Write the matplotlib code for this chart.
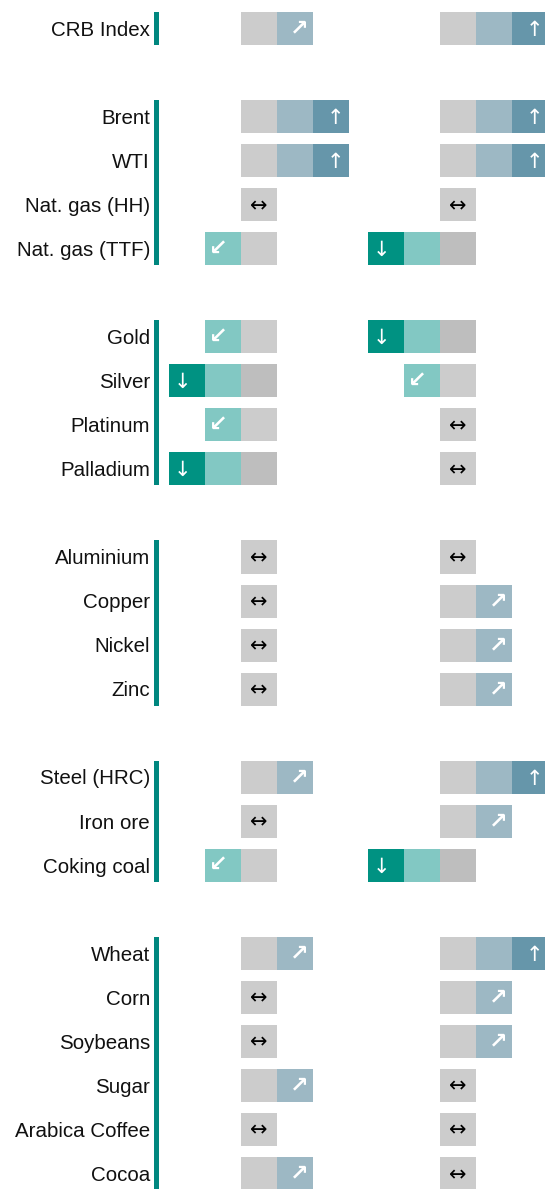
import matplotlib
matplotlib.use("Agg")
import matplotlib.pyplot as plt

# data
groups = [
    ["CRB Index"],
    ["Brent", "WTI", "Nat. gas (HH)", "Nat. gas (TTF)"],
    ["Gold", "Silver", "Platinum", "Palladium"],
    ["Aluminium", "Copper", "Nickel", "Zinc"],
    ["Steel (HRC)", "Iron ore", "Coking coal"],
    ["Wheat", "Corn", "Soybeans", "Sugar", "Arabica Coffee", "Cocoa"],
]
signal_left = [1,
               2, 2, 0, -1,
               -1, -2, -1, -2,
               0, 0, 0, 0,
               1, 0, -1,
               1, 0, 0, 1, 0, 1]
signal_right = [2,
                2, 2, 0, -2,
                -2, -1, 0, 0,
                0, 1, 1, 1,
                2, 1, -2,
                2, 1, 1, 0, 0, 0]

# colours
GRAY = "#cccccc"
GRAY_DK = "#bebebe"
TEAL_LT = "#82c8c3"
TEAL_DK = "#009282"
BLUE_LT = "#9db8c4"
BLUE_DK = "#6696aa"
BAR = "#00877f"

cells_for = {
    0: [(0, GRAY, "↔", "black")],
    1: [(0, GRAY, "", ""), (1, BLUE_LT, "↗", "white")],
    2: [(0, GRAY, "", ""), (1, BLUE_LT, "", ""), (2, BLUE_DK, "↑", "white")],
    -1: [(-1, TEAL_LT, "↙", "white"), (0, GRAY, "", "")],
    -2: [(-2, TEAL_DK, "↓", "white"), (-1, TEAL_LT, "", ""), (0, GRAY_DK, "", "")],
}

# layout (x in cell widths, y in rows)
col_x = [0.0, 5.53]
h = 0.75
arrow_shift = 0.125

fig = plt.figure(figsize=(5.45, 11.89), dpi=100)
ax = fig.add_axes([0, 0, 1, 1])
ax.set_xlim(-6.694, 8.444)
ax.set_ylim(26.35, -0.647)
ax.axis("off")

labels = []
ypos = []
row = 0
group_spans = []
for g in groups:
    start = row
    for name in g:
        labels.append(name)
        ypos.append(row)
        row += 1
    group_spans.append((start, row - 1))
    row += 1

for y, name in zip(ypos, labels):
    ax.text(-2.53, y + 0.04, name, ha="right", va="center", fontsize=14.8,
            family="Liberation Sans", color="#111111")

for a, b in group_spans:
    ax.bar(-2.347, b - a + h, bottom=a - h / 2, width=5 / 36, color=BAR, align="center")

for cx, sig in zip(col_x, [signal_left, signal_right]):
    for y, s in zip(ypos, sig):
        for off, col, arr, acol in cells_for[s]:
            ax.barh(y, 1, left=cx + off, height=h, color=col, align="center")
            if arr:
                dx = 0
                if s > 0:
                    dx = arrow_shift
                elif s < 0:
                    dx = -arrow_shift
                diag = abs(s) == 1
                ax.text(cx + off + 0.5 + dx, y + (0.0 if diag else 0.03), arr,
                        ha="center", va="center",
                        fontsize=16 if diag else 15, color=acol,
                        fontweight="bold" if diag else "normal",
                        family="DejaVu Sans")

fig.savefig("out.png", dpi=100)
